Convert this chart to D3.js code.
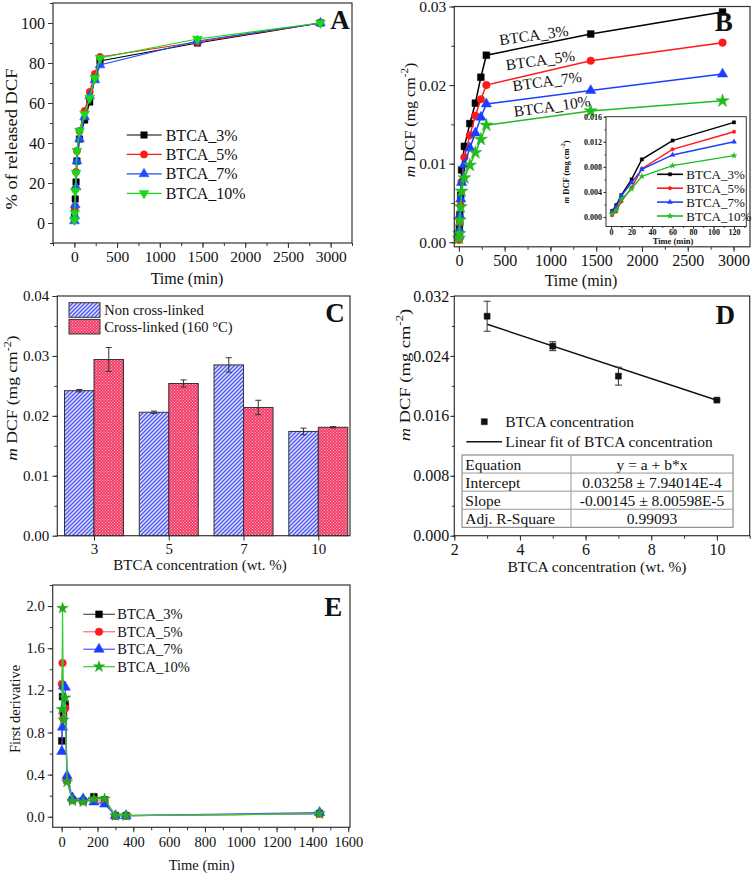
<!DOCTYPE html>
<html><head><meta charset="utf-8">
<script src="https://cdn.jsdelivr.net/npm/d3@7"></script>
<style>body{margin:0;background:#fff}</style>
</head><body>
<script>
// ---------------- DATA ----------------
const seriesNames = ['BTCA_3%','BTCA_5%','BTCA_7%','BTCA_10%'];

// Panel A: % of released DCF
const timeA = [1,5,10,20,30,60,120,180,240,300,1440,2880];
const relA3  = [3,7,12,20.5,31,42,51.5,60.5,72,81,90,100];
const relA5  = [2,8,17,25.5,36,46,56,65.5,74.5,83,90.5,100];
const relA7  = [1,3.5,9,18,31,42,53,63.5,71.5,79,91,100];
const relA10 = [1.5,5,16,25,36,46,54.5,62.5,72.5,82.5,92,100];

// Panel B: m DCF (mg cm-2)
const timeB = [1,5,10,20,30,60,120,180,240,300,1440,2880];
const mB3  = [0.0010,0.0019,0.0035,0.0060,0.0092,0.0122,0.0151,0.0177,0.0210,0.0238,0.0265,0.0293];
const mB5  = [0.0003,0.0009,0.0025,0.0047,0.0077,0.0108,0.0136,0.0161,0.0182,0.0200,0.0231,0.0254];
const mB7  = [0.0008,0.0016,0.0034,0.0055,0.0076,0.0099,0.0120,0.0139,0.0159,0.0176,0.0193,0.0214];
const mB10 = [0.0005,0.0011,0.0028,0.0045,0.0065,0.0082,0.0098,0.0114,0.0131,0.0149,0.0167,0.0180];
const insetMaxTime = 120;

// Panel C: bars
const concCats = ['3','5','7','10'];
const nonCross = [0.0242,0.0206,0.0285,0.0174];
const nonCrossErr = [0.0002,0.0002,0.0012,0.00055];
const cross = [0.0294,0.0254,0.0214,0.0181];
const crossErr = [0.0020,0.0006,0.0012,0.0001];
const barLegend = ['Non cross-linked','Cross-linked (160 °C)'];

// Panel D: scatter + linear fit
const concD = [3,5,7,10];
const mD = [0.0293,0.0253,0.0213,0.0181];
const mDErr = [0.0020,0.0006,0.0012,0.0001];
const fitX = [3,10];
const fitY = [0.02823,0.01808];
const fitTable = [
  ['Equation','y = a + b*x'],
  ['Intercept','0.03258 ± 7.94014E-4'],
  ['Slope','-0.00145 ± 8.00598E-5'],
  ['Adj. R-Square','0.99093']
];

// Panel E: first derivative
const timeE = [1,5,10,20,30,60,120,180,240,300,360,1440];
const dE3  = [0.72,1.14,0.98,1.07,0.35,0.16,0.15,0.19,0.16,0.01,0.01,0.03];
const dE5  = [1.26,1.46,0.93,1.03,0.35,0.16,0.15,0.16,0.14,0.01,0.01,0.03];
const dE7  = [0.62,0.85,1.24,1.23,0.39,0.18,0.17,0.14,0.12,0.01,0.01,0.04];
const dE10 = [1.02,1.98,0.92,1.13,0.33,0.15,0.14,0.17,0.17,0.01,0.01,0.03];

// ---------------- SETUP ----------------
const FONT = '"Liberation Serif","Times New Roman",serif';
const W = 754, H = 874;
const svg = d3.select('body').append('svg').attr('width', W).attr('height', H)
  .attr('font-family', FONT);
svg.append('rect').attr('width', W).attr('height', H).attr('fill', '#fff');

const defs = svg.append('defs');
const pb = defs.append('pattern').attr('id','hatchBlue').attr('patternUnits','userSpaceOnUse')
  .attr('width',4).attr('height',4);
pb.append('rect').attr('width',4).attr('height',4).attr('fill','#e4e4ff');
pb.append('path').attr('d','M-1,1 L1,-1 M0,4 L4,0 M3,5 L5,3').attr('stroke','#4c58ee').attr('stroke-width',1.4);
const pr = defs.append('pattern').attr('id','checkRed').attr('patternUnits','userSpaceOnUse')
  .attr('width',3).attr('height',3);
pr.append('rect').attr('width',3).attr('height',3).attr('fill','#f03c66');
pr.append('rect').attr('width',1).attr('height',1).attr('fill','#ffb3c4');
pr.append('rect').attr('x',1.5).attr('y',1.5).attr('width',1).attr('height',1).attr('fill','#ffc3d0');

function frame(g, x0, x1, y0, y1, sw) {
  g.append('rect').attr('x', x0).attr('y', y0).attr('width', x1 - x0).attr('height', y1 - y0)
    .attr('fill', 'none').attr('stroke', '#333').attr('stroke-width', sw || 1.2);
}
function styleAxis(a, fs, bold) {
  a.attr('font-family', FONT).attr('font-size', fs);
  a.select('.domain').remove();
  a.selectAll('.tick line').attr('stroke', '#333');
  a.selectAll('text').attr('fill', '#111').attr('font-family', FONT).attr('font-size', fs)
    .attr('font-weight', bold ? 'bold' : null);
}
function xAxis(g, sc, y0, major, minor, fmt, fs, pad, tl, bold) {
  tl = tl || 5;
  g.append('g').attr('transform', `translate(0,${y0})`)
    .call(d3.axisBottom(sc).tickValues(minor).tickSize(tl * 0.6).tickFormat(''))
    .call(a => styleAxis(a, fs, bold));
  g.append('g').attr('transform', `translate(0,${y0})`)
    .call(d3.axisBottom(sc).tickValues(major).tickSize(tl).tickPadding(pad).tickFormat(fmt))
    .call(a => styleAxis(a, fs, bold));
}
function yAxis(g, sc, x0, major, minor, fmt, fs, pad, tl, bold) {
  tl = tl || 5;
  g.append('g').attr('transform', `translate(${x0},0)`)
    .call(d3.axisLeft(sc).tickValues(minor).tickSize(tl * 0.6).tickFormat(''))
    .call(a => styleAxis(a, fs, bold));
  g.append('g').attr('transform', `translate(${x0},0)`)
    .call(d3.axisLeft(sc).tickValues(major).tickSize(tl).tickPadding(pad).tickFormat(fmt))
    .call(a => styleAxis(a, fs, bold));
}
function text(g, x, y, s, fs, opts) {
  opts = opts || {};
  const t = g.append('text').attr('x', x).attr('y', y).attr('font-size', fs)
    .attr('text-anchor', opts.anchor || 'middle').attr('dominant-baseline', 'central')
    .attr('font-family', FONT).attr('fill', '#111').text(s);
  if (opts.bold) t.attr('font-weight', 'bold');
  return t;
}
function mDCFTitle(g, x, y, fs, bold, sx) {
  const t = g.append('text').attr('transform', `translate(${x},${y}) scale(${sx || 1},1) rotate(-90)`)
    .attr('text-anchor', 'middle').attr('dominant-baseline', 'central')
    .attr('font-family', FONT).attr('font-size', fs).attr('fill', '#111');
  if (bold) t.attr('font-weight', 'bold');
  t.append('tspan').attr('font-style', 'italic').text('m');
  t.append('tspan').text(' DCF (mg cm');
  t.append('tspan').attr('dy', -fs * 0.35).attr('font-size', fs * 0.7).text('-2');
  t.append('tspan').attr('dy', fs * 0.35).text(')');
  return t;
}
const symTypes = [d3.symbolSquare, d3.symbolCircle, d3.symbolTriangle, d3.symbolStar];
function marker(g, type, x, y, size, color, rot) {
  g.append('path').attr('d', d3.symbol().type(type).size(size)())
    .attr('transform', `translate(${x},${y})` + (rot ? ` rotate(${rot})` : ''))
    .attr('fill', color).attr('stroke', color).attr('stroke-width', 0.5);
}
function series(g, xs, ys, sx, sy, lineColor, markColor, type, size, lw, rot) {
  g.append('path').datum(xs.map((x, i) => [x, ys[i]]))
    .attr('d', d3.line().x(d => sx(d[0])).y(d => sy(d[1])))
    .attr('fill', 'none').attr('stroke', lineColor).attr('stroke-width', lw);
  xs.forEach((x, i) => marker(g, type, sx(x), sy(ys[i]), size, markColor, rot));
}

// ---------------- PANEL A ----------------
{
  const g = svg.append('g');
  const L = 53, R = 352, T = 3, B = 243;
  const x = d3.scaleLinear().domain([-250, 3250]).range([L, R]);
  const y = d3.scaleLinear().domain([-10, 110]).range([B, T]);
  const cols = ['#000', '#ff1a1a', '#1f4fff', '#18d818'];
  const data = [relA3, relA5, relA7, relA10];
  const types = [d3.symbolSquare, d3.symbolCircle, d3.symbolTriangle, d3.symbolTriangle];
  const rots = [0, 0, 0, 180];
  data.forEach((d, i) => series(g, timeA, d, x, y, cols[i], cols[i], types[i], 42, 1.2, rots[i]));
  frame(g, L, R, T, B);
  xAxis(g, x, B, d3.range(0, 3001, 500), d3.range(-250, 3251, 250), d3.format('d'), 15.5, 3);
  yAxis(g, y, L, d3.range(0, 101, 20), d3.range(-10, 111, 10), d3.format('d'), 16, 3);
  text(g, 187, 278, 'Time (min)', 16);
  g.append('text').attr('transform', 'translate(11,139) scale(0.9,1) rotate(-90)').attr('text-anchor', 'middle')
    .attr('dominant-baseline', 'central').attr('font-family', FONT).attr('font-size', 18.5).attr('fill', '#111').text('% of released DCF');
  const ly = d3.scalePoint().domain(seriesNames).range([135, 193.3]);
  seriesNames.forEach((n, i) => {
    g.append('line').attr('x1', 126.7).attr('x2', 161.7).attr('y1', ly(n)).attr('y2', ly(n))
      .attr('stroke', cols[i]).attr('stroke-width', 1.2);
    marker(g, types[i], 144, ly(n), 42, cols[i], rots[i]);
    text(g, 165.7, ly(n), n, 16, { anchor: 'start' });
  });
  text(g, 340, 20, 'A', 27, { bold: true });
}

// ---------------- PANEL B ----------------
{
  const g = svg.append('g');
  const L = 454.3, R = 750, T = 6.5, B = 246.8;
  const x = d3.scaleLinear().domain([-50, 3180]).range([L, R]);
  const y = d3.scaleLinear().domain([-0.00058, 0.03]).range([B, T]);
  const cols = ['#000', '#ff1a1a', '#1a3fff', '#22bb22'];
  const data = [mB3, mB5, mB7, mB10];
  data.forEach((d, i) => series(g, timeB, d, x, y, cols[i], cols[i], symTypes[i], i === 3 ? 55 : 46, 1.5));
  frame(g, L, R, T, B);
  xAxis(g, x, B, d3.range(0, 3001, 500), d3.range(0, 3001, 250), d3.format('d'), 16, 3);
  yAxis(g, y, L, [0, 0.01, 0.02, 0.03], d3.range(0, 0.0301, 0.005), d3.format('.2f'), 15.5, 3);
  text(g, 581, 280, 'Time (min)', 16);
  mDCFTitle(g, 409, 120, 16, false, 0.9);
  const ann = [[533.7, 35], [540.3, 60], [547, 81], [552, 106]];
  seriesNames.forEach((n, i) => {
    g.append('text').attr('transform', `translate(${ann[i][0]},${ann[i][1]}) rotate(-8)`)
      .attr('text-anchor', 'middle').attr('dominant-baseline', 'central').attr('font-size', 15.5)
      .attr('font-family', FONT).attr('fill', '#111').text(n);
  });
  text(g, 723.7, 21.7, 'B', 27, { bold: true });

  // inset
  const iL = 606, iR = 746.3, iT = 116.7, iB = 226.5;
  g.append('rect').attr('x', iL).attr('y', iT).attr('width', iR - iL).attr('height', iB - iT).attr('fill', '#fff');
  const ix = d3.scaleLinear().domain([-5, 132]).range([iL, iR]);
  const iy = d3.scaleLinear().domain([-0.0015, 0.016]).range([iB, iT]);
  const n = timeB.filter(t => t <= insetMaxTime).length;
  data.forEach((d, i) => series(g, timeB.slice(0, n), d.slice(0, n), ix, iy, cols[i], cols[i], symTypes[i], 10, 1.4));
  frame(g, iL, iR, iT, iB, 1);
  xAxis(g, ix, iB, d3.range(0, 121, 20), d3.range(0, 131, 10), d3.format('d'), 8, 0.5, 2.5, true);
  yAxis(g, iy, iL, [0, 0.004, 0.008, 0.012, 0.016], d3.range(0, 0.0161, 0.002), d3.format('.3f'), 8, 1.5, 2.5, true);
  text(g, 673, 241, 'Time (min)', 8.5, { bold: true });
  mDCFTitle(g, 566, 172, 8.5, true);
  const ily = d3.scalePoint().domain(seriesNames).range([174.3, 216]);
  seriesNames.forEach((s, i) => {
    g.append('line').attr('x1', 657).attr('x2', 683).attr('y1', ily(s)).attr('y2', ily(s))
      .attr('stroke', cols[i]).attr('stroke-width', 1.6);
    marker(g, symTypes[i], 670, ily(s), 10, cols[i]);
    text(g, 686.3, ily(s), s, 13, { anchor: 'start' });
  });
}

// ---------------- PANEL C ----------------
{
  const g = svg.append('g');
  const L = 57.3, R = 350, T = 296, B = 535.7;
  const x = d3.scalePoint().domain(concCats).range([L + 36.7, R - 31.7]);
  const y = d3.scaleLinear().domain([0, 0.04]).range([B, T]);
  const bw = 29.5;
  const err = (cx, v, e) => {
    g.append('line').attr('x1', cx).attr('x2', cx).attr('y1', y(v - e)).attr('y2', y(v + e)).attr('stroke', '#333').attr('stroke-width', 1);
    [v - e, v + e].forEach(w => g.append('line').attr('x1', cx - 3).attr('x2', cx + 3).attr('y1', y(w)).attr('y2', y(w)).attr('stroke', '#333').attr('stroke-width', 1));
  };
  concCats.forEach((c, i) => {
    g.append('rect').attr('x', x(c) - bw).attr('y', y(nonCross[i])).attr('width', bw).attr('height', y(0) - y(nonCross[i]))
      .attr('fill', 'url(#hatchBlue)').attr('stroke', '#333').attr('stroke-width', 1);
    g.append('rect').attr('x', x(c)).attr('y', y(cross[i])).attr('width', bw).attr('height', y(0) - y(cross[i]))
      .attr('fill', 'url(#checkRed)').attr('stroke', '#333').attr('stroke-width', 1);
    err(x(c) - bw / 2, nonCross[i], nonCrossErr[i]);
    err(x(c) + bw / 2, cross[i], crossErr[i]);
  });
  frame(g, L, R, T, B);
  xAxis(g, x, B, concCats, [], d => d, 15, 3);
  yAxis(g, y, L, [0, 0.01, 0.02, 0.03, 0.04], d3.range(0, 0.0401, 0.005), d3.format('.2f'), 15, 3);
  text(g, 200, 565, 'BTCA concentration (wt. %)', 15);
  mDCFTitle(g, 12.5, 398, 17.5, false, 0.85);
  const lgy = d3.scalePoint().domain(barLegend).range([310, 326.7]);
  barLegend.forEach((s, i) => {
    g.append('rect').attr('x', 69).attr('y', lgy(s) - 7.3).attr('width', 31).attr('height', 14.6)
      .attr('fill', i ? 'url(#checkRed)' : 'url(#hatchBlue)').attr('stroke', '#333').attr('stroke-width', 1);
    text(g, 104.3, lgy(s), s, 14.5, { anchor: 'start' });
  });
  text(g, 335, 313.3, 'C', 27, { bold: true });
}

// ---------------- PANEL D ----------------
{
  const g = svg.append('g');
  const L = 454.3, R = 749.7, T = 296, B = 535.7;
  const x = d3.scaleLinear().domain([2, 11]).range([L, R]);
  const y = d3.scaleLinear().domain([0, 0.032]).range([B, T]);
  g.append('path').datum(fitX.map((v, i) => [v, fitY[i]]))
    .attr('d', d3.line().x(d => x(d[0])).y(d => y(d[1]))).attr('fill', 'none').attr('stroke', '#111').attr('stroke-width', 1.4);
  concD.forEach((c, i) => {
    const cx = x(c);
    g.append('line').attr('x1', cx).attr('x2', cx).attr('y1', y(mD[i] - mDErr[i])).attr('y2', y(mD[i] + mDErr[i])).attr('stroke', '#333');
    [mD[i] - mDErr[i], mD[i] + mDErr[i]].forEach(w => g.append('line').attr('x1', cx - 3.5).attr('x2', cx + 3.5).attr('y1', y(w)).attr('y2', y(w)).attr('stroke', '#333'));
    marker(g, d3.symbolSquare, cx, y(mD[i]), 36, '#111');
  });
  frame(g, L, R, T, B);
  xAxis(g, x, B, d3.range(2, 11, 2), d3.range(2, 11.01, 1), d3.format('d'), 16, 3);
  yAxis(g, y, L, d3.range(0, 0.0321, 0.008), d3.range(0, 0.0321, 0.004), d3.format('.3f'), 16, 1, 4);
  text(g, 597, 566.7, 'BTCA concentration (wt. %)', 15.5);
  mDCFTitle(g, 405, 375, 18.5, false, 0.8);
  marker(g, d3.symbolSquare, 484.3, 421.7, 36, '#111');
  text(g, 505.3, 421.7, 'BTCA concentration', 15.5, { anchor: 'start' });
  g.append('line').attr('x1', 466.3).attr('x2', 502).attr('y1', 441.7).attr('y2', 441.7).attr('stroke', '#111').attr('stroke-width', 1.4);
  text(g, 505.3, 441.7, 'Linear fit of BTCA concentration', 15.5, { anchor: 'start' });
  // table
  const tL = 462, tR = 733, tT = 455, tB = 527.3, tMid = 571;
  const ry = d3.scaleBand().domain(d3.range(fitTable.length)).range([tT, tB]);
  g.append('rect').attr('x', tL).attr('y', tT).attr('width', tR - tL).attr('height', tB - tT).attr('fill', '#fff').attr('stroke', '#777').attr('stroke-width', 1);
  g.append('line').attr('x1', tMid).attr('x2', tMid).attr('y1', tT).attr('y2', tB).attr('stroke', '#999');
  fitTable.forEach((row, i) => {
    if (i > 0) g.append('line').attr('x1', tL).attr('x2', tR).attr('y1', ry(i)).attr('y2', ry(i)).attr('stroke', '#999');
    const cy = ry(i) + ry.bandwidth() / 2;
    text(g, 465.3, cy, row[0], 15.5, { anchor: 'start' });
    text(g, (tMid + tR) / 2, cy, row[1], 15.5);
  });
  text(g, 725.3, 315, 'D', 27, { bold: true });
}

// ---------------- PANEL E ----------------
{
  const g = svg.append('g');
  const L = 52.7, R = 350, T = 585, B = 827.3;
  const x = d3.scaleLinear().domain([-50, 1610]).range([L, R]);
  const y = d3.scaleLinear().domain([-0.1, 2.2]).range([B, T]);
  const lineCols = ['#4a4a4a', '#ff6a8c', '#4f4fff', '#33cc33'];
  const markCols = ['#000', '#ff1a1a', '#1a3fff', '#22aa22'];
  const data = [dE3, dE5, dE7, dE10];
  data.forEach((d, i) => series(g, timeE, d, x, y, lineCols[i], markCols[i], symTypes[i], i === 3 ? 40 : 46, 1.2));
  frame(g, L, R, T, B);
  xAxis(g, x, B, d3.range(0, 1601, 200), d3.range(0, 1601, 100), d3.format('d'), 14.5, 4);
  yAxis(g, y, L, d3.range(0, 2.01, 0.4), d3.range(0, 2.21, 0.2), d3.format('.1f'), 14.5, 3);
  text(g, 201.7, 865, 'Time (min)', 14.5);
  g.append('text').attr('transform', 'translate(15,709) rotate(-90)').attr('text-anchor', 'middle')
    .attr('dominant-baseline', 'central').attr('font-family', FONT).attr('font-size', 14.5).attr('fill', '#111').text('First derivative');
  const ly = d3.scalePoint().domain(seriesNames).range([614.3, 666.7]);
  seriesNames.forEach((n, i) => {
    g.append('line').attr('x1', 83.3).attr('x2', 115).attr('y1', ly(n)).attr('y2', ly(n))
      .attr('stroke', lineCols[i]).attr('stroke-width', 1.2);
    marker(g, symTypes[i], 99, ly(n), i === 3 ? 40 : 46, markCols[i]);
    text(g, 117.3, ly(n), n, 14.5, { anchor: 'start' });
  });
  text(g, 333.3, 606.7, 'E', 27, { bold: true });
}
</script>
</body></html>
